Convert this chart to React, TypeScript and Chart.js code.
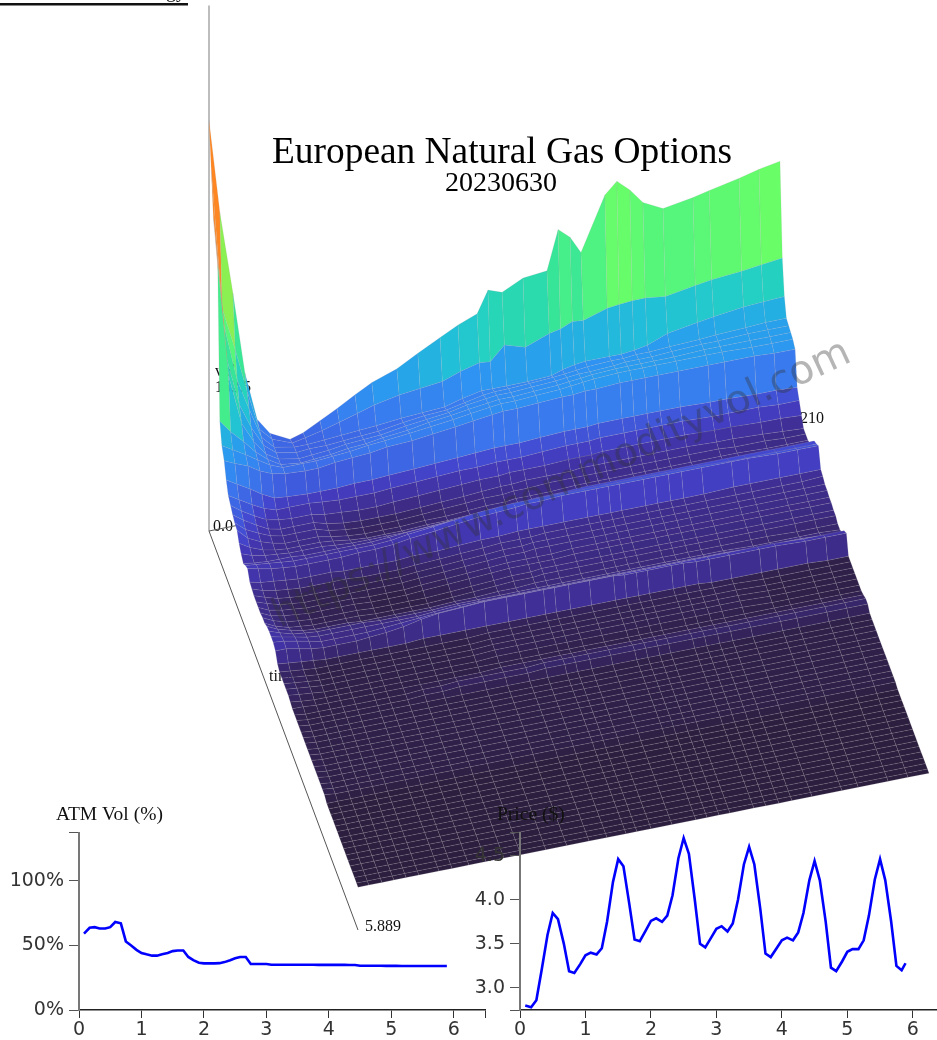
import React, { useEffect, useRef } from "react";
import { Chart, registerables } from "chart.js";
Chart.register(...registerables);

const TENORS = [0.08,0.17,0.25,0.33,0.42,0.5,0.58,0.67,0.75,0.83,0.92,1,1.08,1.17,1.25,1.33,1.42,1.5,1.58,1.67,1.75,1.83,1.92,2,2.08,2.17,2.25,2.33,2.42,2.5,2.58,2.67,2.75,2.83,2.92,3,3.08,3.17,3.25,3.33,3.42,3.5,3.58,3.67,3.75,3.83,3.92,4,4.08,4.17,4.25,4.33,4.42,4.5,4.58,4.67,4.75,4.83,4.92,5,5.08,5.17,5.25,5.33,5.42,5.5,5.58,5.67,5.75,5.83,5.889];
const ATM_VOL = [59,63.5,64,63,63,64,68,67,53,50,46.5,44,43,42,42,43,44,45.5,46,46,41,38.5,36.5,36,36,36,36.2,37,38.5,40,41,41,35.5,35.5,35.5,35.5,35,35,35,35,35,35,35,35,35,34.9,34.9,34.9,34.9,34.9,34.9,34.8,34.8,34.2,34.2,34.2,34.2,34.2,34.1,34.1,34.1,34,34,34,34,34,34,34,34,34,34];
const PRICE = [2.8,2.78,2.86,3.2,3.6,3.85,3.78,3.5,3.19,3.17,3.27,3.37,3.4,3.38,3.45,3.75,4.2,4.46,4.38,3.95,3.55,3.53,3.65,3.76,3.79,3.75,3.82,4.05,4.47,4.7,4.52,4,3.5,3.46,3.57,3.67,3.7,3.64,3.73,4,4.4,4.6,4.4,3.9,3.39,3.35,3.45,3.54,3.57,3.54,3.63,3.85,4.22,4.44,4.22,3.75,3.23,3.19,3.3,3.41,3.44,3.44,3.54,3.82,4.23,4.46,4.22,3.75,3.25,3.2,3.28];
const STRIKES = [0,4,8.8,13.2,17.7,22.4,29.8,34.6,40.8,47.1,53.7,59.9,69.1,76.8,85,91.6,98.6,102.6,107.8,115.5,124.3,128.4,132.8,136.8,145.6,150,154.8,159.6,167,178,184,195,202.3,210];

const V0 = [326,251,185,120,81,68,60,63,70,77,85,92,99,108,117,124,130,147,143,151,153,184,176,162,204,213,204,192,184,188,191,196,200,203];
const V1 = [291,180,145,110,78,68,62,64,67,71,75,79,83,85,87,92,96,95,106,101,108,110,114,113,119,120,121,121,119,123,125,127,129,131];
const V2 = [258,170,125,100,76,66,63,63,64,65,66,67,69,70,71,75,78,78,78,78,79,82,84,85,85,85,86,88,94,98,100,103,104,105];
const V3 = [246,150,110,90,74,66,63,64,64,65,66,67,70,72,73,76,79,80,80,81,82,83,84,85,86,86,87,87,88,89,90,91,92,92];
const V4 = [230,140,100,84,72,66,63,64,65,67,68,69,72,74,76,79,81,82,82,83,84,85,86,86,87,88,88,88,89,90,90,91,91,91];
const V5 = [110,100,90,80,72,66,64,65,66,68,69,71,73,76,78,80,82,83,83,84,85,86,87,88,89,89,89,89,89,90,90,90,90,90];
const V6 = [95,90,84,78,72,68,68,68,69,70,72,73,75,77,79,81,83,84,84,85,86,87,88,89,90,90,90,90,90,90,90,89,89,89];
const V7 = [88,84,80,74,70,68,67,67,69,70,71,73,74,76,78,80,82,83,83,84,85,85,86,86,87,87,87,87,87,87,87,87,86,86];
const V8 = [77,72,66,60,55,54,53,53,53,54,54,55,56,57,58,59,60,60,60,61,62,62,62,63,63,63,63,63,63,62,62,61,61,60];
const V9 = [69,64,58,53,50,50,50,49,48,48,48,49,50,51,52,52,53,53,53,54,55,55,55,56,56,56,56,56,56,55,55,55,54,54];
const V10 = [66,60,54,49,47,46,46,44,43,42,42,43,44,45,46,47,47,48,48,48,49,49,49,50,50,50,50,50,50,49,49,48,48,47];
const V11 = [63,57,51,46,44,44,44,41,39,38,38,38,39,40,41,42,43,43,44,44,44,45,45,45,45,45,45,45,45,44,44,43,42,41];
const V12 = [61,54,49,45,43,43,43,40,38,37,37,37,38,39,40,41,41,42,42,43,43,43,43,43,43,43,43,43,43,43,42,42,41,41];
const V13 = [60,52,47,44,42,42,42,40,38,37,37,37,38,38,39,40,40,41,41,41,42,42,42,42,42,42,42,42,42,42,42,41,41,41];
const V14 = [54,49,45,43,42,42,42,41,39,38,38,38,39,39,40,41,41,42,42,43,43,43,43,43,43,43,43,43,43,43,43,43,43,43];
const V15 = [50,47,45,44,43,43,43,42,41,41,41,41,42,43,44,45,45,46,46,46,46,46,46,46,46,46,46,46,46,46,46,46,46,46];
const V16 = [47,46,45,45,45,44,44,44,44,44,45,46,47,48,50,51,52,52,53,53,54,54,54,54,54,54,54,54,54,54,54,54,54,54];
const V17 = [50,49,48,47,46,46,46,46,46,46,47,49,51,53,55,56,57,57,57,57,57,57,57,57,57,57,57,57,57,56,56,56,56,56];
const V18 = [52,50,48,47,46,46,46,46,47,47,48,50,52,54,56,57,58,59,59,60,60,60,60,60,60,60,60,60,60,60,60,59,59,59];
const V19 = [46,44,43,42,41,41,41,40,40,40,40,41,41,42,43,43,44,44,44,44,44,44,44,44,44,44,44,44,44,45,45,45,45,45];
const V20 = [45,42,40,39,38,38,38,38,37,37,37,38,39,40,41,42,42,42,43,43,43,43,43,43,43,43,43,43,43,43,43,43,43,44];
const V21 = [44,41,38,37,36,36,36,36,36,36,36,37,38,39,40,41,41,42,42,42,42,42,42,42,42,42,42,42,42,42,42,42,42,42];
const V23 = [44,40,38,37,36,36,36,36,35,35,35,36,37,38,39,40,40,40,40,41,41,41,41,41,41,41,41,41,41,41,41,41,41,41];
const V25 = [45,41,38,37,36,36,36,36,35,35,35,35,36,37,38,39,39,40,40,40,40,40,40,40,40,40,40,40,40,40,40,40,40,40];
const V27 = [47,43,40,38,37,37,37,36,36,36,36,36,37,37,38,38,39,39,39,39,39,39,39,39,39,39,39,39,39,39,39,38,38,38];
const V28 = [48,45,42,41,40,40,40,40,39,39,39,39,40,40,40,40,40,40,40,40,40,40,40,40,40,40,40,40,40,39,39,39,39,38];
const V29 = [48,46,44,42,41,41,41,41,41,41,41,42,43,43,43,43,43,43,43,43,43,43,43,43,43,43,43,43,43,42,42,42,41,40];
const V30 = [48,47,45,43,41,41,41,41,42,43,44,45,46,47,47,47,47,47,47,47,47,47,47,47,47,47,47,47,47,47,47,46,46,46];
const V31 = [46,46,44,42,41,41,41,42,43,45,48,50,51,52,52,52,52,52,52,52,52,51,51,51,51,51,50,50,50,50,50,49,49,49];
const V32 = [40,39,38,37,36,36,36,36,36,36,37,37,37,37,37,37,37,37,37,37,37,37,37,37,37,37,37,36,36,36,36,36,35,35];
const V34 = [38,37,36,35,35,35,35,35,35,35,35,35,35,36,36,36,36,36,36,36,36,36,36,36,36,36,36,36,36,35,35,35,35,35];
const V38 = [37,36,35,35,35,35,35,35,35,35,35,35,35,35,35,35,35,35,35,35,35,35,35,35,35,35,35,35,35,35,35,35,35,35];
const V39 = [36,36,35,35,35,35,35,35,35,35,35,35,35,36,36,36,36,36,36,36,36,36,36,36,36,36,36,36,36,36,36,36,36,36];
const V40 = [36,35,35,35,35,35,35,35,35,36,36,37,37,37,37,38,38,38,38,38,38,38,38,38,38,38,38,38,38,38,38,38,38,38];
const V42 = [36,35,35,35,35,35,35,35,35,35,35,35,35,35,35,35,35,35,35,35,35,35,35,35,35,35,35,35,35,35,35,35,35,35];
const V55 = [34,34,34,34,34,34,34,34,34,34,34,34,34,34,34,34,34,34,34,34,34,34,34,34,34,34,34,34,34,34,34,34,34,34];

// One strike profile per tenor, front rows repeat the same flat reading.
const SURFACE = [V0,V1,V2,V3,V4,V5,V6,V7,V8,V9,V10,V11,V12,V13,V14,V15,V16,V17,V18,V19,V20,V21,V21,V23,V23,V25,V25,V27,V28,V29,V30,V31,V32,V34,V34,V34,V34,V34,V38,V39,V40,V40,V42,V42,V42,V42,V42,V42,V42,V42,V42,V42,V42,V42,V42,V55,V55,V55,V55,V55,V55,V55,V55,V55,V55,V55,V55,V55,V55,V55,V55];

const COLOR_STOPS: [number, number[]][] = [
  [34,[44,30,62]],[36,[50,34,84]],[40,[60,42,128]],[45,[64,48,154]],[50,[67,56,184]],[55,[67,72,208]],[62,[62,96,224]],[72,[58,120,238]],[85,[46,146,242]],[95,[37,168,232]],[105,[34,191,216]],[118,[36,210,192]],[135,[47,224,160]],[150,[79,244,128]],[170,[112,255,98]],[190.9,[140,240,80]],[191,[255,140,32]],[330,[255,128,32]],
];
function colorFor(v: number) {
  for (let k = 1; k < COLOR_STOPS.length; k++) {
    const [a, ca] = COLOR_STOPS[k - 1], [b, cb] = COLOR_STOPS[k];
    if (v <= b) {
      const u = Math.max(0, (v - a) / (b - a));
      return `rgb(${ca.map((c, n) => Math.round(c + (cb[n] - c) * u)).join(",")})`;
    }
  }
  return "rgb(255,128,32)";
}

const T0 = TENORS[0], T1 = TENORS[TENORS.length - 1], SMAX = STRIKES[STRIKES.length - 1];
function project(s: number, t: number, v: number) {
  const f = s / SMAX, g = (t - T0) / (T1 - T0);
  return { x: 209 + 571 * f + 149 * g, y: 531 - 114 * f + 399 * g - 1.26 * v };
}

function surfaceDatasets() {
  const out: any[] = [];
  for (let r = SURFACE.length - 2; r >= 0; r--) {
    for (let c = STRIKES.length - 2; c >= 0; c--) {
      const a = SURFACE[r], b = SURFACE[r + 1];
      const mean = (a[c] + a[c + 1] + b[c] + b[c + 1]) / 4;
      out.push({
        data: [
          project(STRIKES[c], TENORS[r], a[c]),
          project(STRIKES[c + 1], TENORS[r], a[c + 1]),
          project(STRIKES[c + 1], TENORS[r + 1], b[c + 1]),
          project(STRIKES[c], TENORS[r + 1], b[c]),
          project(STRIKES[c], TENORS[r], a[c]),
        ],
        showLine: true, fill: "shape", backgroundColor: colorFor(mean),
        borderColor: "rgba(165,160,165,0.3)", borderWidth: 0.5, pointRadius: 0, tension: 0, clip: false,
      });
    }
  }
  // axes lie under the surface
  out.push({ data: [project(0, T0, 0), project(0, T1, 0)], showLine: true, borderColor: "#555", borderWidth: 1, pointRadius: 0, clip: false });
  out.push({ data: [project(0, T0, 0), project(SMAX, T0, 0)], showLine: true, borderColor: "#555", borderWidth: 1, pointRadius: 0, clip: false });
  out.push({ data: [project(0, T0, 0), project(0, T0, 417)], showLine: true, borderColor: "#bdbdbd", borderWidth: 2, pointRadius: 0, clip: false });
  return out;
}

const SERIF = '"Liberation Serif", serif';
const SANS = '"DejaVu Sans", sans-serif';

const labelsPlugin = {
  id: "surfaceText",
  beforeDatasetsDraw(chart: any) {
    const c = chart.ctx;
    c.save();
    c.fillStyle = "#111";
    c.font = `16px ${SERIF}`;
    c.textAlign = "left";
    c.textBaseline = "alphabetic";
    c.fillText("vol", 215, 376);
    c.fillText("162.5", 215, 392);
    c.fillText("0.0", 213, 531);
    c.fillText("time", 269, 681);
    c.fillText("210", 800, 423);
    c.fillText("5.889", 365, 931);
    c.fillRect(0, 3, 188, 2.5);
    c.font = `20px ${SERIF}`;
    c.textAlign = "right";
    c.fillText("Energy", 186, -3);
    c.restore();
  },
  afterDatasetsDraw(chart: any) {
    const c = chart.ctx;
    c.save();
    c.fillStyle = "#000";
    c.textAlign = "center";
    c.textBaseline = "alphabetic";
    c.font = `37.4px ${SERIF}`;
    c.fillText("European Natural Gas Options", 502, 163);
    c.font = `28px ${SERIF}`;
    c.fillText("20230630", 501, 191);
    c.translate(562, 485);
    c.rotate(-25 * Math.PI / 180);
    c.font = `40px ${SANS}`;
    c.fillStyle = "rgba(50,50,50,0.36)";
    c.textBaseline = "middle";
    c.fillText("https://www.commodityvol.com", 0, 0);
    c.restore();
  },
};

function smallChart(canvas: HTMLCanvasElement, cfg: any) {
  const titlePlugin = {
    id: "smallTitle",
    afterDraw(chart: any) {
      const c = chart.ctx;
      c.save();
      c.fillStyle = "#111";
      c.font = `19.5px ${SERIF}`;
      c.textBaseline = "alphabetic";
      c.fillText(cfg.title, cfg.titleX, cfg.titleY);
      c.restore();
    },
  };
  return new Chart(canvas, {
    type: "line",
    plugins: [titlePlugin],
    data: { datasets: [{ data: TENORS.map((t, i) => ({ x: t, y: cfg.values[i] })), borderColor: "#0000ff", borderWidth: 2.6, pointRadius: 0, tension: 0, fill: false, clip: false }] },
    options: {
      animation: false, responsive: false, devicePixelRatio: 1, events: [],
      layout: { padding: cfg.padding },
      plugins: { legend: { display: false }, tooltip: { enabled: false }, title: { display: false } },
      scales: {
        x: {
          type: "linear", min: 0, max: cfg.xMax,
          afterBuildTicks: (s: any) => { s.ticks = cfg.xTicks.map((value: number) => ({ value })); },
          afterFit: (s: any) => { s.height = 30; },
          grid: { drawOnChartArea: false, drawTicks: true, tickLength: 8, color: "#333" },
          border: { color: "#222", width: 1.5 },
          ticks: { autoSkip: false, maxRotation: 0, padding: 1, color: "#333", font: { family: "DejaVu Sans", size: 19 }, callback: (v: number) => (Number.isInteger(v) ? String(v) : "") },
        },
        y: {
          type: "linear", min: cfg.yMin, max: cfg.yMax,
          afterBuildTicks: (s: any) => { s.ticks = cfg.yTicks.map((value: number) => ({ value })); },
          afterFit: (s: any) => { s.width = cfg.yWidth; },
          grid: { drawOnChartArea: false, drawTicks: true, tickLength: 10, color: "#555" },
          border: { color: "#777", width: 2 },
          ticks: { autoSkip: false, padding: 5, color: "#333", font: { family: "DejaVu Sans", size: 19 }, callback: cfg.yLabel },
        },
      },
    },
  } as any);
}

export default function App() {
  const surface = useRef<HTMLCanvasElement>(null);
  const left = useRef<HTMLCanvasElement>(null);
  const right = useRef<HTMLCanvasElement>(null);
  useEffect(() => {
    document.body.style.margin = "0";
    const charts = [
      new Chart(surface.current!, {
        type: "scatter",
        plugins: [labelsPlugin],
        data: { datasets: surfaceDatasets() },
        options: {
          animation: false, responsive: false, devicePixelRatio: 1, events: [],
          plugins: { legend: { display: false }, tooltip: { enabled: false } },
          scales: { x: { type: "linear", min: 0, max: 937, display: false }, y: { type: "linear", min: 0, max: 1040, reverse: true, display: false } },
        },
      } as any),
      smallChart(left.current!, {
        values: ATM_VOL, title: "ATM Vol (%)", titleX: 56, titleY: 30,
        padding: { top: 42.7, right: 5, left: 0, bottom: 0 }, xMax: 6.5, xTicks: [0, 1, 2, 3, 4, 5, 6, 6.5],
        yMin: 0, yMax: 137, yTicks: [0, 50, 100, 137], yWidth: 79,
        yLabel: (v: number) => (v === 137 ? "" : `${v}%`),
      }),
      smallChart(right.current!, {
        values: PRICE, title: "Price ($)", titleX: 27, titleY: 30,
        padding: { top: 42.7, right: 0, left: 0, bottom: 0 }, xMax: 6.37, xTicks: [0, 1, 2, 3, 4, 5, 6],
        yMin: 2.75, yMax: 4.76, yTicks: [2.75, 3, 3.5, 4, 4.5, 4.76], yWidth: 50,
        yLabel: (v: number) => (v === 2.75 || v === 4.76 ? "" : v.toFixed(1)),
      }),
    ];
    return () => charts.forEach((c) => c.destroy());
  }, []);
  const abs = (l: number, t: number): React.CSSProperties => ({ position: "absolute", left: l, top: t, display: "block" });
  return (
    <div style={{ position: "absolute", left: 0, top: 0, width: 937, height: 1040, overflow: "hidden", background: "#fff" }}>
      <canvas ref={surface} width={937} height={1040} style={abs(0, 0)} />
      <canvas ref={left} width={490} height={250} style={abs(0, 790)} />
      <canvas ref={right} width={467} height={250} style={abs(470, 790)} />
    </div>
  );
}
